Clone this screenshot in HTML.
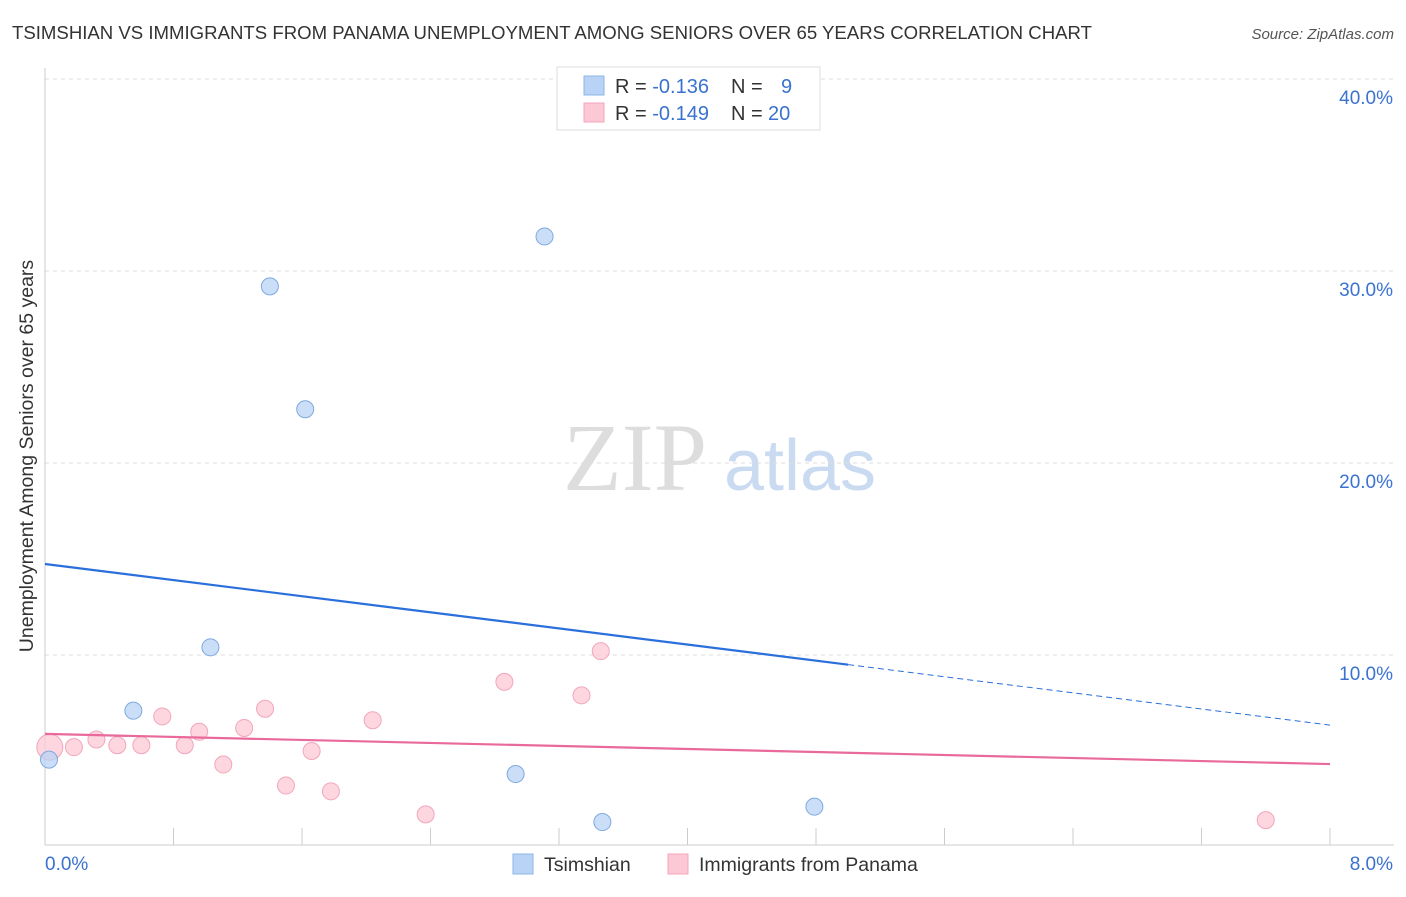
<!DOCTYPE html>
<html><head><meta charset="utf-8"><style>
body{margin:0;background:#fff;font-family:"Liberation Sans",sans-serif;}
</style></head><body>
<svg id="chart" width="1406" height="892" xmlns="http://www.w3.org/2000/svg" font-family="Liberation Sans, sans-serif">
<text x="12" y="39" font-size="18.6" fill="#333">TSIMSHIAN VS IMMIGRANTS FROM PANAMA UNEMPLOYMENT AMONG SENIORS OVER 65 YEARS CORRELATION CHART</text>
<text x="1394" y="39" font-size="15" fill="#555" text-anchor="end" font-style="italic">Source: ZipAtlas.com</text>
<text transform="translate(33,456) rotate(-90)" font-size="19.5" fill="#333" text-anchor="middle">Unemployment Among Seniors over 65 years</text>
<g>
<text x="635" y="490" font-size="96" fill="#ddd" text-anchor="middle" style="font-family:'Liberation Serif',serif">ZIP</text>
<text x="800" y="490" font-size="72" fill="#c9daf1" text-anchor="middle">atlas</text>
</g>
<g id="grid"></g><g id="axes"></g><g id="marks"></g>
<g>
<rect x="557" y="67" width="263" height="63" fill="#fff" stroke="#ddd"/>
<rect x="584" y="76" width="20" height="19" fill="#b8d3f5" stroke="#8fb6e8"/>
<rect x="584" y="103" width="20" height="19" fill="#fcc8d6" stroke="#f2a6bb"/>
<text x="615" y="93" font-size="20" fill="#333">R = <tspan fill="#3a72d0">-0.136</tspan><tspan x="731">N = </tspan><tspan x="781" fill="#3a72d0">9</tspan></text>
<text x="615" y="120" font-size="20" fill="#333">R = <tspan fill="#3a72d0">-0.149</tspan><tspan x="731">N = </tspan><tspan x="768" fill="#3a72d0">20</tspan></text>
</g>
<g>
<rect x="513" y="854" width="20" height="20" fill="#b8d3f5" stroke="#8fb6e8"/>
<text x="544" y="871" font-size="19.5" fill="#333">Tsimshian</text>
<rect x="668" y="854" width="20" height="20" fill="#fcc8d6" stroke="#f2a6bb"/>
<text x="699" y="871" font-size="19.5" fill="#333">Immigrants from Panama</text>
</g>
</svg>
<script>
const yTicks=[10,20,30,40];
const xTickLabels=["0.0%","8.0%"];
const blueX=[0.025,0.55,1.03,1.40,1.62,2.93,3.11,3.47,4.79];
const blueY=[4.55,7.1,10.4,29.2,22.8,3.8,31.8,1.3,2.1];
const pinkX=[0.03,0.18,0.32,0.45,0.6,0.73,0.87,0.96,1.11,1.24,1.37,1.5,1.66,1.78,2.04,2.37,2.86,3.34,3.46,7.6];
const pinkY=[5.2,5.2,5.6,5.3,5.3,6.8,5.3,6.0,4.3,6.2,7.2,3.2,5.0,2.9,6.6,1.7,8.6,7.9,10.2,1.4];
const blueTrend=[14.74,6.35];
const pinkTrend=[5.89,4.32];
const X=v=>45+v*160.625, Y=v=>847-v*19.2;
const NS="http://www.w3.org/2000/svg";
function mk(t,a,p){const e=document.createElementNS(NS,t);for(const k in a)e.setAttribute(k,a[k]);p.appendChild(e);return e;}
const grid=document.getElementById('grid'),axes=document.getElementById('axes'),marks=document.getElementById('marks');
yTicks.forEach(t=>{
 const l=mk('line',{x1:45,x2:1394,y1:Y(t),y2:Y(t),stroke:'#ddd','stroke-dasharray':'4,4'},grid);
 
 
 const tx=mk('text',{x:1393,y:Y(t)+25,'font-size':19,fill:'#3a72d0','text-anchor':'end'},axes);
 tx.textContent=t.toFixed(1)+'%';
 
 
});
mk('line',{x1:45,x2:45,y1:68,y2:845,stroke:'#ccc'},axes);
mk('line',{x1:45,x2:1394,y1:845,y2:845,stroke:'#ccc'},axes);
for(let i=0;i<=10;i++){mk('line',{x1:X(i*0.8),x2:X(i*0.8),y1:828,y2:845,stroke:'#ccc'},axes);}
const xl0=mk('text',{x:45,y:870,'font-size':19,fill:'#3a72d0'},axes);xl0.textContent=xTickLabels[0];


const xl1=mk('text',{x:1393,y:870,'font-size':19,fill:'#3a72d0','text-anchor':'end'},axes);xl1.textContent=xTickLabels[1];


pinkX.forEach((x,i)=>{
 const c=mk('circle',{cx:X(x),cy:Y(pinkY[i]),r:i==0?13:8.5,fill:'#fcc8d6','fill-opacity':0.75,stroke:'#f2a6bb'},marks);
 
 
});
blueX.forEach((x,i)=>{
 const c=mk('circle',{cx:X(x),cy:Y(blueY[i]),r:8.5,fill:'#b8d3f5','fill-opacity':0.75,stroke:'#7ea9e0'},marks);
 
 
});
const bAt=x=>blueTrend[0]+(blueTrend[1]-blueTrend[0])*x/8;
const b1=mk('line',{x1:X(0),y1:Y(bAt(0)),x2:X(5),y2:Y(bAt(5)),stroke:'#2a6fdb','stroke-width':2.2},marks);


const b2=mk('line',{x1:X(5),y1:Y(bAt(5)),x2:X(8),y2:Y(bAt(8)),stroke:'#2a6fdb','stroke-width':1,'stroke-dasharray':'6,4'},marks);


const p1=mk('line',{x1:X(0),y1:Y(pinkTrend[0]),x2:X(8),y2:Y(pinkTrend[1]),stroke:'#e8699a','stroke-width':2.2},marks);


</script>
</body></html>
